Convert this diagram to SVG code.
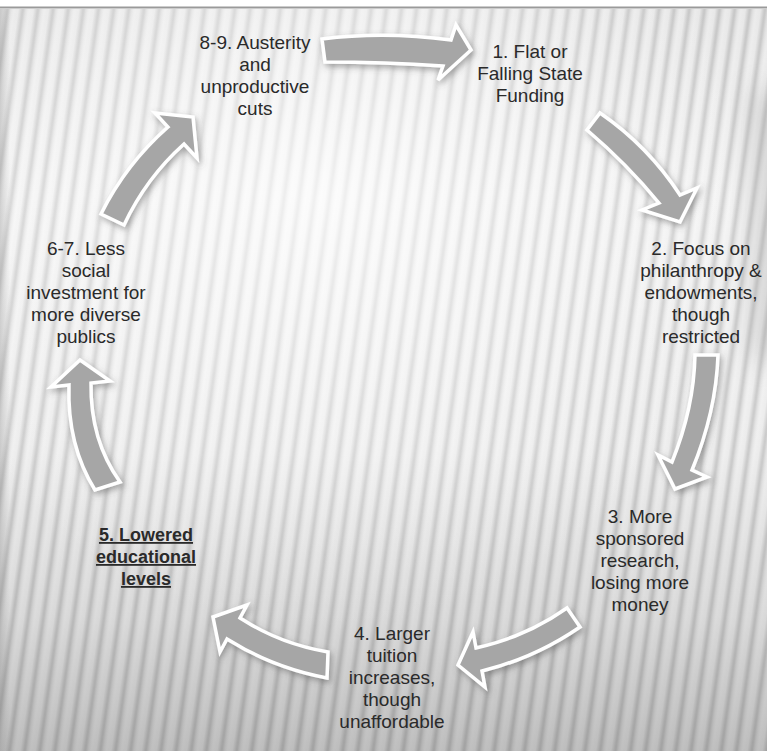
<svg xmlns="http://www.w3.org/2000/svg" width="767" height="751" viewBox="0 0 767 751">
<style>
.lbl{font-family:"Liberation Sans",Arial,sans-serif;font-size:19px;fill:#2a2a2a;text-anchor:middle}
.u{font-weight:bold;font-size:18px;text-decoration:underline}
.arr{fill:#a6a6a6;stroke:#ffffff;stroke-width:3.5;stroke-linejoin:miter;filter:url(#sh)}
</style>
<defs>
<filter id="sh" x="-30%" y="-30%" width="160%" height="160%">
<feDropShadow dx="2" dy="3" stdDeviation="3" flood-color="#555" flood-opacity="0.5"/>
</filter>
<filter id="soft" x="-50%" y="-50%" width="200%" height="200%">
<feGaussianBlur stdDeviation="14"/>
</filter>
<linearGradient id="bg" x1="0" y1="0" x2="0" y2="1">
<stop offset="0" stop-color="#ececec"/>
<stop offset="0.25" stop-color="#f6f6f6"/>
<stop offset="0.6" stop-color="#f0f0f0"/>
<stop offset="0.82" stop-color="#dcdcdc"/>
<stop offset="1" stop-color="#c0c0c0"/>
</linearGradient>
<linearGradient id="st" x1="0" y1="0" x2="1" y2="0">
<stop offset="0" stop-color="#000" stop-opacity="0"/>
<stop offset="0.3" stop-color="#000" stop-opacity="0.02"/>
<stop offset="0.6" stop-color="#000" stop-opacity="0.17"/>
<stop offset="0.8" stop-color="#000" stop-opacity="0.05"/>
<stop offset="1" stop-color="#000" stop-opacity="0"/>
</linearGradient>
<pattern id="stripes" width="15" height="40" patternUnits="userSpaceOnUse" patternTransform="rotate(8)">
<rect width="15" height="40" fill="url(#st)"/>
</pattern>
<radialGradient id="glow" cx="320" cy="200" r="430" gradientUnits="userSpaceOnUse">
<stop offset="0" stop-color="#fff" stop-opacity="0.7"/>
<stop offset="0.55" stop-color="#fff" stop-opacity="0.3"/>
<stop offset="1" stop-color="#fff" stop-opacity="0"/>
</radialGradient>
<linearGradient id="edgeL" x1="0" y1="0" x2="1" y2="0">
<stop offset="0" stop-color="#888" stop-opacity="0.35"/>
<stop offset="1" stop-color="#888" stop-opacity="0"/>
</linearGradient>
</defs>
<rect width="767" height="751" fill="#ffffff"/>
<rect x="0" y="9" width="767" height="742" fill="url(#bg)"/>
<rect x="0" y="9" width="767" height="742" fill="url(#stripes)"/>
<rect x="0" y="9" width="767" height="742" fill="url(#glow)"/>
<rect x="0" y="9" width="10" height="742" fill="url(#edgeL)"/>
<rect x="750" y="90" width="40" height="270" fill="#999" opacity="0.3" filter="url(#soft)"/>
<rect x="0" y="0" width="767" height="7" fill="#ffffff"/>
<line x1="0" y1="7.5" x2="767" y2="7.5" stroke="#9a9a9a" stroke-width="2"/>
<g id="connectors">
<path class="arr" d="M322,39 Q385,31 451,40 L456,25 L471,50 L438,80 L443,66 Q385,62 325,62 Z"/>
<path class="arr" d="M600,113 Q648,146 680,195 L697,188 L680,222 L642,210 L659,203 Q627,164 587,130 Z"/>
<path class="arr" d="M695,355 L718,355 Q716,412 692,470 L707,477 L675,489 L658,455 L672,462 Q694,408 695,355 Z"/>
<path class="arr" d="M567,608 Q526,637 476,648 L473,632 L458,665 L485,687 L482,671 Q535,658 580,627 Z"/>
<path class="arr" d="M328,652 L327,678 Q273,668 227,639 L220,652 L213,617 L247,605 L240,618 Q280,644 328,652 Z"/>
<path class="arr" d="M95,490 Q67,445 69,385 L51,387 L80,360 L110,381 L91,383 Q90,440 120,482 Z"/>
<path class="arr" d="M101,214 Q126,164 168,127 L155,113 L193,117 L197,158 L184,144 Q146,178 124,225 Z"/>
</g>
<g id="node1"><text class="lbl"><tspan x="530" y="58">1. Flat or</tspan><tspan x="530" y="80">Falling State</tspan><tspan x="530" y="102">Funding</tspan></text></g>
<g id="node2"><text class="lbl"><tspan x="701" y="255">2. Focus on</tspan><tspan x="701" y="277">philanthropy &amp;</tspan><tspan x="701" y="299">endowments,</tspan><tspan x="701" y="321">though</tspan><tspan x="701" y="343">restricted</tspan></text></g>
<g id="node3"><text class="lbl"><tspan x="640" y="523">3. More</tspan><tspan x="640" y="545">sponsored</tspan><tspan x="640" y="567">research,</tspan><tspan x="640" y="589">losing more</tspan><tspan x="640" y="611">money</tspan></text></g>
<g id="node4"><text class="lbl"><tspan x="392" y="640">4. Larger</tspan><tspan x="392" y="662">tuition</tspan><tspan x="392" y="684">increases,</tspan><tspan x="392" y="706">though</tspan><tspan x="392" y="728">unaffordable</tspan></text></g>
<g id="node5"><text class="lbl u"><tspan x="146" y="541">5. Lowered</tspan><tspan x="146" y="563">educational</tspan><tspan x="146" y="585">levels</tspan></text></g>
<g id="node67"><text class="lbl"><tspan x="86" y="255">6-7. Less</tspan><tspan x="86" y="277">social</tspan><tspan x="86" y="299">investment for</tspan><tspan x="86" y="321">more diverse</tspan><tspan x="86" y="343">publics</tspan></text></g>
<g id="node89"><text class="lbl"><tspan x="255" y="49">8-9. Austerity</tspan><tspan x="255" y="71">and</tspan><tspan x="255" y="93">unproductive</tspan><tspan x="255" y="115">cuts</tspan></text></g>
</svg>
